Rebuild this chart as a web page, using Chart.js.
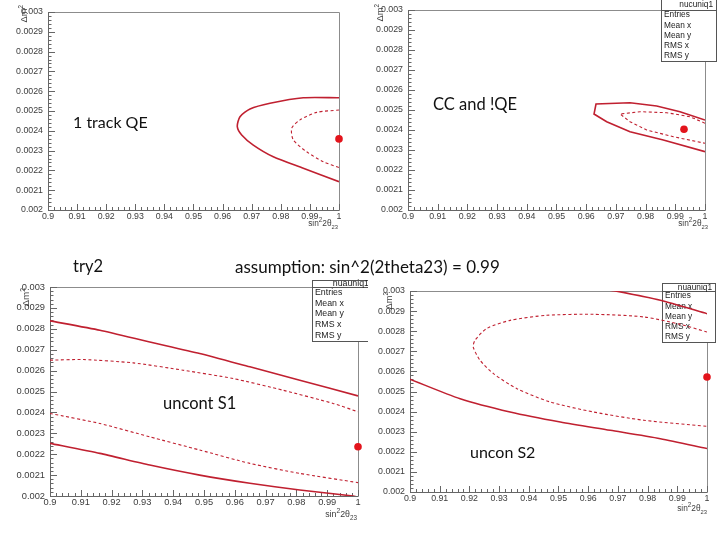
<!DOCTYPE html>
<html><head><meta charset="utf-8">
<script src="https://cdn.jsdelivr.net/npm/chart.js@4.4.1/dist/chart.umd.min.js"></script>
<style>
html,body{margin:0;padding:0;background:#fff;width:720px;height:540px;overflow:hidden;}
#stage{position:relative;width:720px;height:540px;background:#fff;}
canvas{position:absolute;left:0;top:0;}
.note{position:absolute;font-family:Lato,"Open Sans",sans-serif;line-height:1;color:#111;white-space:nowrap;}
</style></head><body>
<div id="stage">
<canvas id="c1" width="720" height="540"></canvas>
<canvas id="c2" width="720" height="540"></canvas>
<canvas id="c3" width="720" height="540"></canvas>
<canvas id="c4" width="720" height="540"></canvas>
<div class="note" style="left:73px;top:113.8px;font-size:16px">1 track QE</div>
<div class="note" style="left:433px;top:96.4px;font-size:16.5px">CC and !QE</div>
<div class="note" style="left:73px;top:258.3px;font-size:16.5px">try2</div>
<div class="note" style="left:235px;top:257.9px;font-size:17px">assumption: sin^2(2theta23) = 0.99</div>
<div class="note" style="left:163px;top:395.4px;font-size:16.5px">uncont S1</div>
<div class="note" style="left:470px;top:443.8px;font-size:16px">uncon S2</div>
</div>
<script>
// ---- axis ticks ----
const xTicks = [0.9,0.91,0.92,0.93,0.94,0.95,0.96,0.97,0.98,0.99,1.0];
const xTickLabels = ['0.9','0.91','0.92','0.93','0.94','0.95','0.96','0.97','0.98','0.99','1'];
const yTicks = [0.002,0.0021,0.0022,0.0023,0.0024,0.0025,0.0026,0.0027,0.0028,0.0029,0.003];
const yTickLabels = ['0.002','0.0021','0.0022','0.0023','0.0024','0.0025','0.0026','0.0027','0.0028','0.0029','0.003'];
const statsRows = ['Entries','Mean x','Mean y','RMS x','RMS y'];

// ---- plot 1: 1 track QE ----
const p1SolidX = [1.0,0.98773,0.97629,0.96942,0.96598,0.96505,0.96656,0.97055,0.97742,0.98773,1.0];
const p1SolidY = [0.002567,0.002567,0.002539,0.00251,0.002471,0.002421,0.002379,0.002328,0.002269,0.002211,0.002143];
const p1DashX = [1.0,0.99234,0.9866,0.98375,0.9843,0.9889,0.9946,1.0];
const p1DashY = [0.002505,0.002493,0.002455,0.002413,0.002354,0.002294,0.002244,0.002214];
const p1BestX = [1.0], p1BestY = [0.002359];

// ---- plot 2: CC and !QE ----
const p2SolidX = [1.0,0.99158,0.98374,0.97475,0.9633,0.96263,0.9669,0.97475,0.98596,1.0];
const p2SolidY = [0.00245,0.0024915,0.00252,0.0025365,0.00253,0.00248,0.0024415,0.0023915,0.00235,0.0022915];
const p2DashX = [1.0,0.99495,0.9871,0.97811,0.97138,0.97475,0.98037,0.98933,1.0];
const p2DashY = [0.0024335,0.0024665,0.0024865,0.0024915,0.00248,0.0024415,0.0024,0.0023665,0.0023335];
const p2BestX = [0.99293], p2BestY = [0.0024035];

// ---- plot 3: uncont S1 ----
const p3SolidUpX = [0.9,0.9162,0.9324,0.9486,0.9649,0.9811,1.0];
const p3SolidUpY = [0.002838,0.002793,0.002737,0.002682,0.002618,0.002554,0.002479];
const p3DashUpX = [0.9,0.9108,0.927,0.9432,0.9595,0.9757,0.9919,1.0];
const p3DashUpY = [0.00265,0.002653,0.002637,0.002602,0.002562,0.002506,0.002443,0.002403];
const p3DashLoX = [0.9,0.9162,0.9324,0.9486,0.9649,0.9811,1.0];
const p3DashLoY = [0.002395,0.002347,0.002283,0.00222,0.002156,0.002108,0.002064];
const p3SolidLoX = [0.9,0.9162,0.9324,0.9486,0.9649,0.9811,0.9984,1.0];
const p3SolidLoY = [0.002252,0.002204,0.002148,0.0021,0.002061,0.002029,0.002,0.001994];
const p3BestX = [1.0], p3BestY = [0.002236];

// ---- plot 4: uncon S2 ----
const p4SolidUpX = [0.965,0.9691,0.9843,1.0];
const p4SolidUpY = [0.003008,0.003,0.002954,0.002887];
const p4DashX = [1.0,0.991,0.9787,0.9618,0.946,0.9337,0.9258,0.9219,0.9213,0.9236,0.9281,0.936,0.9472,0.9618,0.9787,1.0];
const p4DashY = [0.002796,0.002834,0.002871,0.002884,0.002879,0.002854,0.002813,0.002755,0.002721,0.002655,0.002589,0.002514,0.002448,0.002398,0.002357,0.002327];
const p4SolidLoX = [0.9,0.9169,0.9337,0.9506,0.9674,0.9843,1.0];
const p4SolidLoY = [0.002561,0.002464,0.002398,0.002348,0.002307,0.002265,0.002216];
const p4BestX = [1.0], p4BestY = [0.002572];

const LINE = '#c02030', DOT = '#e3141c';
const FONT = '"Liberation Sans", Arial, sans-serif';

function pts(xs, ys){ return xs.map((x,i)=>({x:x, y:ys[i]})); }
function solid(xs, ys, t){ return {data:pts(xs,ys), showLine:true, borderColor:LINE, borderWidth:1.6, pointRadius:0, tension:t, fill:false}; }
function dashed(xs, ys, t){ return {data:pts(xs,ys), showLine:true, borderColor:LINE, borderWidth:1.1, borderDash:[3,2.5], pointRadius:0, tension:t, fill:false}; }
function best(xs, ys){ return {data:pts(xs,ys), showLine:false, pointRadius:3.8, pointBackgroundColor:DOT, pointBorderWidth:0, clip:false}; }

function subdiv(ticks){
  const out=[];
  for(let i=0;i<ticks.length-1;i++){ for(let j=1;j<5;j++){ out.push(ticks[i]+(ticks[i+1]-ticks[i])*j/5); } }
  return out;
}

const rootFrame = {
  id:'rootFrame',
  beforeDatasetsDraw(chart, args, o){
    const ctx = chart.ctx, xs = chart.scales.x, ys = chart.scales.y, a = chart.chartArea;
    const px = v => Math.round(v)+0.5;
    ctx.save();
    ctx.lineWidth = 1;
    ctx.strokeStyle = '#8c8c8c';
    ctx.beginPath();
    ctx.moveTo(px(a.left), px(a.top)); ctx.lineTo(px(a.right), px(a.top)); ctx.lineTo(px(a.right), px(a.bottom));
    ctx.stroke();
    ctx.strokeStyle = '#666';
    ctx.beginPath();
    ctx.moveTo(px(a.left), px(a.top)); ctx.lineTo(px(a.left), px(a.bottom)); ctx.lineTo(px(a.right), px(a.bottom));
    ctx.stroke();
    ctx.beginPath();
    xTicks.forEach(v=>{ const x=px(xs.getPixelForValue(v)); ctx.moveTo(x, a.bottom); ctx.lineTo(x, a.bottom-6); });
    subdiv(xTicks).forEach(v=>{ const x=px(xs.getPixelForValue(v)); ctx.moveTo(x, a.bottom); ctx.lineTo(x, a.bottom-3); });
    yTicks.forEach(v=>{ const y=px(ys.getPixelForValue(v)); ctx.moveTo(a.left, y); ctx.lineTo(a.left+7, y); });
    subdiv(yTicks).forEach(v=>{ const y=px(ys.getPixelForValue(v)); ctx.moveTo(a.left, y); ctx.lineTo(a.left+3.5, y); });
    ctx.stroke();
    ctx.fillStyle = '#3c3c3c';
    ctx.font = o.fs + 'px ' + FONT;
    ctx.textAlign = 'center'; ctx.textBaseline = 'top';
    xTicks.forEach((v,i)=>{ ctx.fillText(xTickLabels[i], xs.getPixelForValue(v), a.bottom+2); });
    ctx.textAlign = 'right'; ctx.textBaseline = 'middle';
    yTicks.forEach((v,i)=>{ ctx.fillText(yTickLabels[i], a.left-5, ys.getPixelForValue(v)); });
    const tf = o.fs - 0.5;
    const parts = [['sin', tf+'px', 0], ['2', (tf-2)+'px', -4], ['2θ', tf+'px', 0], ['23', (tf-2.5)+'px', 3]];
    let w = 0;
    parts.forEach(p=>{ ctx.font = p[1]+' '+FONT; w += ctx.measureText(p[0]).width; });
    let x = o.xTitle.right - w;
    ctx.textAlign = 'left'; ctx.textBaseline = 'alphabetic';
    parts.forEach(p=>{ ctx.font = p[1]+' '+FONT; ctx.fillText(p[0], x, o.xTitle.base+p[2]); x += ctx.measureText(p[0]).width; });
    ctx.save();
    ctx.translate(o.yTitle.x, o.yTitle.end);
    ctx.rotate(-Math.PI/2);
    ctx.font = (tf-2)+'px '+FONT;
    const sw = ctx.measureText('2').width;
    ctx.textAlign = 'right'; ctx.textBaseline = 'alphabetic';
    ctx.fillText('2', 0, -1);
    ctx.font = (tf+1)+'px '+FONT;
    ctx.fillText('Δm', -sw, 3);
    ctx.restore();
    if (o.box){
      const b = o.box;
      ctx.save();
      if (b.clipRight){ ctx.beginPath(); ctx.rect(0,0,b.clipRight,540); ctx.clip(); }
      ctx.fillStyle = '#fff';
      ctx.fillRect(b.x0, b.y0, b.x1-b.x0, b.y1-b.y0);
      ctx.strokeStyle = '#555';
      ctx.strokeRect(px(b.x0), px(b.y0), b.x1-b.x0, b.y1-b.y0);
      ctx.beginPath(); ctx.moveTo(b.x0, px(b.yH)); ctx.lineTo(b.x1, px(b.yH)); ctx.stroke();
      ctx.fillStyle = '#222';
      ctx.font = (o.fs-0.5)+'px '+FONT;
      ctx.textAlign = 'right'; ctx.textBaseline = 'middle';
      ctx.fillText(b.title, b.x1-3, (b.y0+b.yH)/2+0.5);
      ctx.textAlign = 'left';
      const step = (b.y1-b.yH)/statsRows.length;
      statsRows.forEach((r,i)=>{ ctx.fillText(r, b.x0+3, b.yH+step*(i+0.5)); });
      ctx.restore();
    }
    ctx.restore();
  }
};

function makeChart(id, area, datasets, opt){
  return new Chart(document.getElementById(id), {
    type:'scatter',
    data:{datasets:datasets},
    options:{
      responsive:false, animation:false, events:[],
      layout:{padding:{left:area.L, top:area.T, right:720-area.R, bottom:540-area.B}},
      scales:{
        x:{type:'linear', min:0.9, max:1.0, display:false},
        y:{type:'linear', min:0.002, max:0.003, display:false}
      },
      plugins:{legend:{display:false}, tooltip:{enabled:false}, rootFrame:opt}
    },
    plugins:[rootFrame]
  });
}

makeChart('c1', {L:48,T:12,R:339,B:210}, [
  solid(p1SolidX, p1SolidY, 0.25), dashed(p1DashX, p1DashY, 0.25), best(p1BestX, p1BestY)
], {fs:8.8, xTitle:{right:338, base:226}, yTitle:{x:24, end:5}, box:null});

makeChart('c2', {L:408,T:10,R:705,B:210}, [
  solid(p2SolidX, p2SolidY, 0), dashed(p2DashX, p2DashY, 0), best(p2BestX, p2BestY)
], {fs:8.8, xTitle:{right:708, base:226}, yTitle:{x:380, end:4}, box:{x0:661,x1:716,y0:-1,yH:10,y1:61,title:'nucuniq1'}});

makeChart('c3', {L:50,T:287,R:358,B:496}, [
  solid(p3SolidUpX, p3SolidUpY, 0.2), dashed(p3DashUpX, p3DashUpY, 0.2),
  dashed(p3DashLoX, p3DashLoY, 0.2), solid(p3SolidLoX, p3SolidLoY, 0.2), best(p3BestX, p3BestY)
], {fs:9.3, xTitle:{right:357, base:517}, yTitle:{x:26, end:288}, box:{x0:312,x1:372,y0:280,yH:287,y1:341,title:'nuauniq1',clipRight:368}});

makeChart('c4', {L:410,T:291,R:707,B:492}, [
  solid(p4SolidUpX, p4SolidUpY, 0.2), dashed(p4DashX, p4DashY, 0.25),
  solid(p4SolidLoX, p4SolidLoY, 0.25), best(p4BestX, p4BestY)
], {fs:8.8, xTitle:{right:707, base:511}, yTitle:{x:389, end:292}, box:{x0:662,x1:715,y0:283,yH:291,y1:342,title:'nuauniq1'}});
</script>
</body></html>
